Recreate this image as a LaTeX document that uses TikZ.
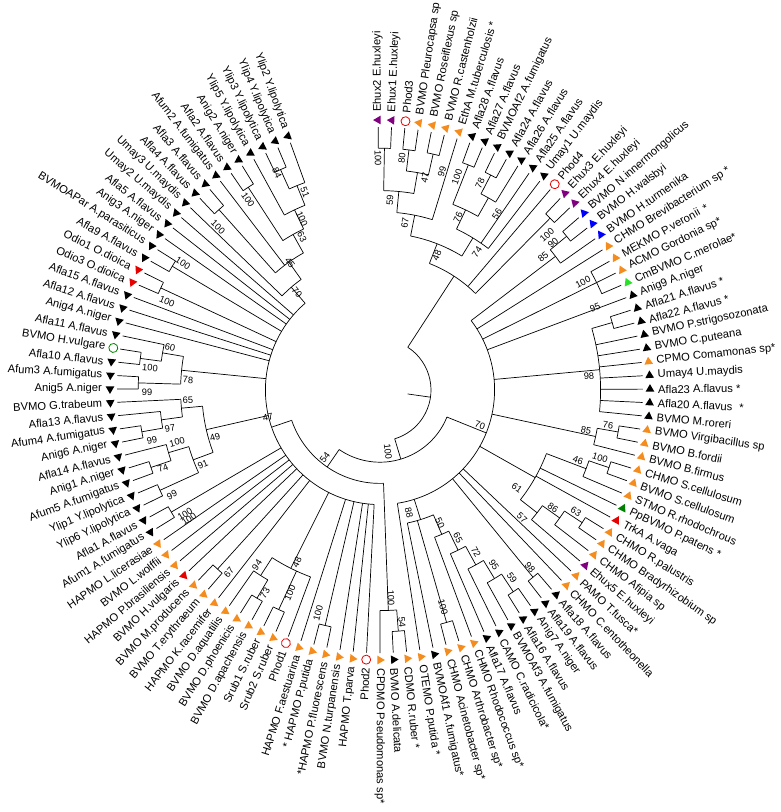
\documentclass[tikz,border=0pt]{standalone}
\usepackage{fontspec}
\setmainfont{Liberation Sans}
\usetikzlibrary{shapes.geometric}
\definecolor{cor}{RGB}{245,140,30}
\definecolor{cpu}{RGB}{128,0,128}
\definecolor{cbl}{RGB}{0,0,255}
\definecolor{cgr}{RGB}{40,225,40}
\definecolor{cdg}{RGB}{0,128,0}
\definecolor{crd}{RGB}{230,0,0}
\newcommand\setA[2]{\expandafter\xdef\csname tA@#1\endcsname{#2}}
\newcommand\getA[1]{\csname tA@#1\endcsname}
\newcommand\TNode[3]{%
  \foreach \c [count=\k] in {#3} {%
    \ifnum\k=1 \xdef\tfirst{\c}\fi
    \xdef\tlast{\c}%
  }%
  \pgfmathsetmacro\tang{(\getA{\tfirst}+\getA{\tlast})/2}%
  \pgfmathsetmacro\trad{263-21.2*#2}%
  \setA{#1}{\tang}%
  \coordinate (#1) at (\tang:\trad pt);%
  \draw[br] (\getA{\tfirst}:\trad pt) arc[start angle=\getA{\tfirst}, end angle=\getA{\tlast}, radius=\trad pt];%
  \foreach \c in {#3} {\draw[br] (\getA{\c}:\trad pt) -- (\c);}%
}
\newcommand\LF[3]{%
  \pgfmathsetmacro\la{90.4-(#1-1)*2.91}%
  \node[#2, rotate=\la] (M#1) at (\la:270pt) {};%
  \pgfmathtruncatemacro\side{\la>-90.6 ? 1 : 0}%
  \ifnum\side=1
    \node[lbl, anchor=west, rotate=\la] (T#1) at (\la:278pt) {#3};%
  \else
    \pgfmathsetmacro\lr{\la+180}%
    \node[lbl, anchor=east, rotate=\lr] (T#1) at (\la:278pt) {#3};%
  \fi
}
\newcommand\BS[3]{%
  \pgfmathsetmacro\bx{#1-380}%
  \pgfmathsetmacro\by{390-#2}%
  \pgfmathsetmacro\bang{atan2(\by,\bx)}%
  \pgfmathsetmacro\brot{\bx>=0 ? \bang : \bang+180}%
  \node[bs, rotate=\brot] at (\bx pt,\by pt) {#3};%
}
\tikzset{
  br/.style={line width=0.7pt, black},
  tri/.style={regular polygon, regular polygon sides=3, inner sep=0pt, minimum size=10pt, draw=none},
  tk/.style={tri, fill=black},
  to/.style={tri, fill=cor},
  tp/.style={tri, fill=cpu},
  tb/.style={tri, fill=cbl},
  tg/.style={tri, fill=cgr},
  tdg/.style={tri, fill=cdg},
  tr/.style={tri, fill=crd},
  cr/.style={circle, draw=crd, line width=0.8pt, minimum size=9pt, inner sep=0pt},
  cg/.style={circle, draw=cdg, line width=0.8pt, minimum size=9pt, inner sep=0pt},
  lbl/.style={inner sep=0pt, font=\fontsize{11.2}{13}\selectfont},
  bs/.style={inner sep=0pt, font=\fontsize{9.3}{11}\selectfont}
}
\begin{document}
\begin{tikzpicture}
\useasboundingbox (-380pt,-422pt) rectangle (400pt,390pt);
\foreach \i in {1,...,118} {%
  \pgfmathsetmacro\ang{90.4-(\i-1)*2.91}%
  \setA{L\i}{\ang}%
  \coordinate (L\i) at (\ang:263pt);%
}
% ---- upper clade
\TNode{N100a}{1}{L1,L2}
\TNode{N80}{1}{L3,L4}
\TNode{N99}{1}{L5,L6}
\TNode{N47}{2}{N80,N99}
\TNode{N59}{3}{N100a,N47}
\TNode{N67}{4}{N59,L7}
\TNode{N100b}{1}{L8,L9}
\TNode{N78}{1}{L10,L11}
\TNode{N56}{2}{N78,L12}
\TNode{N76}{3}{N100b,N56}
\TNode{N74}{4}{N76,L13,L14}
\TNode{N48}{5}{N67,N74}
\TNode{Nehux}{1}{L16,L17}
\TNode{R1}{6}{N48,L15,Nehux}
% ---- right clade
\TNode{N90}{1}{L18,L19}
\TNode{N85h}{2}{N90,L20}
\TNode{N100d}{1}{L22,L23,L24}
\TNode{N95}{1}{L26,L27}
\TNode{N98}{2}{N95,L28,L29,L30,L31,L32,L33,L34}
\TNode{N76b}{1}{L35,L36}
\TNode{N85b}{2}{N76b,L37}
\TNode{N100e}{1}{L38,L39}
\TNode{N46}{2}{N100e,L40}
\TNode{N63}{1}{L43,L44}
\TNode{N86}{2}{N63,L45}
\TNode{N57}{3}{N86,L46}
\TNode{N61}{4}{N46,L41,L42,N57}
\TNode{N98b}{1}{L49,L50}
\TNode{N59b}{1}{L51,L52}
\TNode{N95b}{2}{N59b,L53}
\TNode{N72}{3}{N95b,L54}
\TNode{N65b}{4}{N72,L55}
\TNode{N50}{5}{N65b,L56}
\TNode{N100f}{1}{L57,L58}
\TNode{N88}{6}{N50,N100f,L59}
\TNode{N70}{7}{N85h,L21,N100d,L25,N98,N85b,N61,L47,L48,N98b,N88,L60}
% ---- left clade
\TNode{N54b}{1}{L61,L62}
\TNode{N100g}{2}{N54b,L63}
\TNode{N100h}{1}{L67,L68}
\TNode{N100i}{1}{L71,L72}
\TNode{N73}{1}{L73,L74}
\TNode{N94}{2}{N73,L75}
\TNode{N48b}{3}{L70,N100i,N94}
\TNode{N67L}{1}{L77,L78}
\TNode{N100y}{1}{L83,L84}
\TNode{N99c}{1}{L85,L86}
\TNode{N74L}{1}{L87,L88}
\TNode{N100x}{2}{N74L,L89}
\TNode{N91}{3}{N99c,N100x}
\TNode{N99d}{1}{L90,L91}
\TNode{N97}{2}{N99d,L92}
\TNode{N65L}{3}{N97,L93}
\TNode{N49}{4}{N91,N65L}
\TNode{N99L}{1}{L94,L95}
\TNode{N100L}{1}{L96,L97}
\TNode{N60}{2}{N100L,L98}
\TNode{N78L}{3}{N99L,N60}
\TNode{N100o}{1}{L102,L103}
\TNode{N100p}{1}{L104,L105}
\TNode{N100u}{1}{L110,L111}
\TNode{N100s}{1}{L113,L114}
\TNode{N84}{1}{L116,L117}
\TNode{N51}{2}{N84,L118}
\TNode{N100t}{3}{L115,N51}
\TNode{N63L}{4}{N100s,N100t}
\TNode{N45}{5}{N100u,L112,N63L}
\TNode{N70L}{6}{L109,N45}
\TNode{N47L}{7}{L64,L65,L66,N100h,L69,N48b,L76,N67L,L79,L80,L81,L82,N100y,N49,N78L,L99,L100,L101,N100o,N100p,L106,L107,L108,N70L}
\TNode{N54}{8}{N100g,N47L}
\TNode{N100r}{9}{N70,N54}
\TNode{ROOT}{10}{R1,N100r}
\coordinate (RS) at (\getA{ROOT}:28pt);
\draw[br] (RS) -- (ROOT);
% ---- leaves
\LF{1}{tp}{Ehux2 E.huxleyi}
\LF{2}{tp}{Ehux1 E.huxleyi}
\LF{3}{cr}{Phod3}
\LF{4}{to}{BVMO Pleurocapsa sp}
\LF{5}{to}{BVMO Roseiflexus sp}
\LF{6}{to}{BVMO R.castenholzii}
\LF{7}{to}{EthA M.tuberculosis *}
\LF{8}{tk}{Afla28 A.flavus}
\LF{9}{tk}{Afla27 A.flavus}
\LF{10}{tk}{BVMOAf2 A.fumigatus}
\LF{11}{tk}{Afla24 A.flavus}
\LF{12}{tk}{Afla26 A.flavus}
\LF{13}{tk}{Afla25 A.flavus}
\LF{14}{tk}{Umay1 U.maydis}
\LF{15}{cr}{Phod4}
\LF{16}{tp}{Ehux3 E.huxleyi}
\LF{17}{tp}{Ehux4 E.huxleyi}
\LF{18}{tb}{BVMO N.innermongolicus}
\LF{19}{tb}{BVMO H.walsbyi}
\LF{20}{tb}{BVMO H.turmenika}
\LF{21}{to}{CHMO Brevibacterium sp *}
\LF{22}{to}{MEKMO P.veronii \,*}
\LF{23}{to}{ACMO Gordonia sp*}
\LF{24}{tg}{CmBVMO C.merolae*}
\LF{25}{tk}{Anig9 A.niger}
\LF{26}{tk}{Afla21 A.flavus *}
\LF{27}{tk}{Afla22 A.flavus *}
\LF{28}{tk}{BVMO P.strigosozonata}
\LF{29}{tk}{BVMO C.puteana}
\LF{30}{to}{CPMO Comamonas sp*}
\LF{31}{tk}{Umay4 U.maydis}
\LF{32}{tk}{Afla23 A.flavus *}
\LF{33}{tk}{Afla20 A.flavus \,\,*}
\LF{34}{tk}{BVMO M.roreri}
\LF{35}{to}{BVMO Virgibacillus sp}
\LF{36}{to}{BVMO B.fordii}
\LF{37}{to}{BVMO B.firmus}
\LF{38}{to}{CHMO S.cellulosum}
\LF{39}{to}{BVMO S.cellulosum}
\LF{40}{to}{STMO R.rhodochrous}
\LF{41}{tdg}{PpBVMO P.patens *}
\LF{42}{tr}{TrkA A.vaga}
\LF{43}{to}{CHMO R.palustris}
\LF{44}{to}{CHMO Bradyrhizobium sp}
\LF{45}{to}{CHMO Afipia sp}
\LF{46}{tp}{Ehux5 E.huxleyi}
\LF{47}{to}{PAMO T.fusca*}
\LF{48}{to}{CHMO C.entotheonella}
\LF{49}{tk}{Afla18 A.flavus}
\LF{50}{tk}{Afla19 A.flavus}
\LF{51}{tk}{Anig7 A.niger}
\LF{52}{tk}{Afla16 A.flavus}
\LF{53}{tk}{BVMOAf3 A.fumigatus}
\LF{54}{tk}{CAMO C.radicicola*}
\LF{55}{tk}{Afla17 A.flavus}
\LF{56}{to}{CHMO Rhodococcus sp*}
\LF{57}{to}{CHMO Arthrobacter sp*}
\LF{58}{to}{CHMO Acinetobacter sp*}
\LF{59}{tk}{BVMOAf1 A.fumigatus*}
\LF{60}{to}{OTEMO P.putida *}
\LF{61}{to}{CDMO R.ruber *}
\LF{62}{tk}{BVMO A.delicata}
\LF{63}{to}{CPDMO Pseudomonas sp*}
\LF{64}{cr}{Phod2}
\LF{65}{to}{HAPMO T.parva}
\LF{66}{to}{BVMO N.turpanensis}
\LF{67}{to}{*HAPMO P.fluorescens}
\LF{68}{to}{* HAPMO P.putida}
\LF{69}{to}{HAPMO F.aestuarina}
\LF{70}{cr}{Phod1}
\LF{71}{to}{Srub2 S.ruber}
\LF{72}{to}{Srub1 S.ruber}
\LF{73}{to}{BVMO D.apachensis}
\LF{74}{to}{BVMO D.phoenicis}
\LF{75}{to}{BVMO D.aquatilis}
\LF{76}{to}{HAPMO K.racemifer}
\LF{77}{to}{BVMO T.erythraeum}
\LF{78}{to}{BVMO M.producens}
\LF{79}{tr}{BVMO H.vulgaris}
\LF{80}{to}{HAPMO P.brasiliensis}
\LF{81}{to}{BVMO L.wolffii}
\LF{82}{to}{HAPMO L.licerasiae}
\LF{83}{tk}{Afum1 A.fumigatus}
\LF{84}{tk}{Afla1 A.flavus}
\LF{85}{tk}{Ylip6 Y.lipolytica}
\LF{86}{tk}{Ylip1 Y.lipolytica}
\LF{87}{tk}{Afum5 A.fumigatus}
\LF{88}{tk}{Anig1 A.niger}
\LF{89}{tk}{Afla14 A.flavus}
\LF{90}{tk}{Anig6 A.niger}
\LF{91}{tk}{Afum4 A.fumigatus}
\LF{92}{tk}{Afla13 A.flavus}
\LF{93}{tk}{BVMO G.trabeum}
\LF{94}{tk}{Anig5 A.niger}
\LF{95}{tk}{Afum3 A.fumigatus}
\LF{96}{tk}{Afla10 A.flavus}
\LF{97}{cg}{BVMO H.vulgare}
\LF{98}{tk}{Afla11 A.flavus}
\LF{99}{tk}{Anig4 A.niger}
\LF{100}{tk}{Afla12 A.flavus}
\LF{101}{tk}{Afla15 A.flavus}
\LF{102}{tr}{Odio3 O.dioica}
\LF{103}{tr}{Odio1 O.dioica}
\LF{104}{tk}{Afla9 A.flavus}
\LF{105}{tk}{BVMOAPar A.parasiticus}
\LF{106}{tk}{Anig3 A.niger}
\LF{107}{tk}{Afla5 A.flavus}
\LF{108}{tk}{Umay2 U.maydis}
\LF{109}{tk}{Umay3 U.maydis}
\LF{110}{tk}{Afla4 A.flavus}
\LF{111}{tk}{Afla3 A.flavus}
\LF{112}{tk}{Afum2 A.fumigatus}
\LF{113}{tk}{Afla2 A.flavus}
\LF{114}{tk}{Anig2 A.niger}
\LF{115}{tk}{Ylip5 Y.lipolytica}
\LF{116}{tk}{Ylip3 Y.lipolytica}
\LF{117}{tk}{Ylip4 Y.lipolytica}
\LF{118}{tk}{Ylip2 Y.lipolytica}
% ---- bootstrap values
\BS{378}{158}{100}
\BS{402}{158}{80}
\BS{390}{200}{59}
\BS{425}{178}{47}
\BS{405}{223}{67}
\BS{442}{172}{99}
\BS{457}{177}{100}
\BS{480}{183}{78}
\BS{458}{217}{76}
\BS{497}{214}{56}
\BS{477}{252}{74}
\BS{437}{255}{48}
\BS{547}{235}{100}
\BS{553}{243}{90}
\BS{543}{257}{85}
\BS{583}{282}{100}
\BS{595}{308}{95}
\BS{589}{376}{98}
\BS{480}{425}{70}
\BS{586}{430}{85}
\BS{608}{425}{76}
\BS{600}{458}{100}
\BS{578}{460}{46}
\BS{517}{488}{61}
\BS{522}{518}{57}
\BS{553}{508}{86}
\BS{576}{512}{63}
\BS{530}{567}{98}
\BS{512}{578}{59}
\BS{494}{565}{95}
\BS{476}{552}{72}
\BS{458}{538}{65}
\BS{440}{523}{50}
\BS{409}{513}{88}
\BS{443}{607}{100}
\BS{402}{622}{54}
\BS{391}{598}{100}
\BS{388}{452}{100}
\BS{325}{457}{54}
\BS{268}{417}{47}
\BS{318}{613}{100}
\BS{290}{593}{100}
\BS{297}{562}{48}
\BS{257}{565}{94}
\BS{265}{593}{73}
\BS{229}{572}{67}
\BS{185}{514}{100}
\BS{189}{519}{100}
\BS{172}{495}{99}
\BS{203}{465}{91}
\BS{163}{468}{74}
\BS{177}{442}{100}
\BS{215}{437}{49}
\BS{152}{440}{99}
\BS{170}{428}{97}
\BS{188}{400}{65}
\BS{147}{392}{99}
\BS{188}{380}{78}
\BS{150}{368}{100}
\BS{170}{347}{60}
\BS{167}{302}{100}
\BS{183}{263}{100}
\BS{297}{292}{70}
\BS{290}{263}{45}
\BS{218}{227}{100}
\BS{248}{200}{100}
\BS{302}{237}{63}
\BS{302}{219}{100}
\BS{305}{192}{51}
\BS{277}{173}{84}
\end{tikzpicture}
\end{document}
